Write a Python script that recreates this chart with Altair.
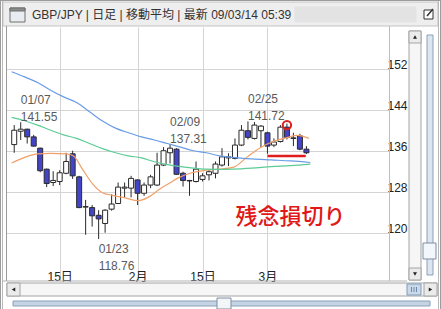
import altair as alt
import pandas as pd

# ---------------- data ----------------
opens  = [137.2, 139.8, 140.2, 138.7, 136.5, 132.4, 129.8, 130.0, 131.6, 135.4,
          130.9, 125.0, 124.9, 123.4, 121.8, 124.6, 125.7, 128.7, 128.7, 130.3,
          127.7, 129.3, 129.3, 133.2, 135.6, 136.3, 131.6, 130.2, 130.0, 130.4,
          131.3, 131.6, 133.2, 134.6, 134.5, 137.1, 139.9, 138.4, 139.9, 139.5,
          137.1, 137.8, 140.6, 138.5, 138.9, 136.3]
highs  = [141.0, 141.55, 140.3, 139.1, 136.6, 132.5, 132.0, 132.2, 135.6, 136.0,
          131.1, 126.4, 125.4, 124.4, 124.6, 127.5, 129.8, 129.8, 131.1, 130.4,
          129.8, 131.3, 135.6, 136.7, 137.31, 136.5, 131.9, 130.3, 133.9, 131.6,
          132.2, 133.9, 136.5, 135.5, 138.4, 141.0, 141.72, 141.6, 141.0, 139.7,
          138.4, 141.0, 141.3, 139.5, 139.3, 136.9]
lows   = [135.6, 138.1, 137.4, 136.8, 131.8, 128.9, 129.1, 129.3, 131.4, 130.5,
          124.8, 119.6, 121.2, 118.76, 120.0, 124.3, 125.6, 126.9, 126.9, 125.4,
          127.2, 128.7, 129.1, 133.0, 133.5, 131.3, 129.0, 127.2, 129.8, 130.0,
          130.2, 130.6, 132.9, 133.0, 134.3, 136.9, 138.2, 138.2, 136.7, 135.4,
          136.7, 137.6, 138.2, 136.9, 136.1, 135.35]
closes = [140.0, 140.2, 138.7, 136.9, 132.1, 129.6, 130.2, 131.7, 133.9, 131.1,
          124.9, 125.1, 123.3, 122.7, 124.4, 125.6, 128.9, 128.9, 130.6, 127.7,
          129.3, 130.9, 133.2, 136.0, 136.5, 131.4, 130.2, 130.1, 132.4, 131.1,
          131.9, 133.4, 134.8, 134.8, 137.1, 140.0, 138.6, 141.0, 140.8, 136.9,
          137.7, 140.6, 138.6, 138.4, 136.3, 135.6]

ma_short_idx = [-0.4, 1.6, 3.6, 5.6, 8.1, 9.1, 10.6, 12.1, 13.6, 15.1, 17.1, 19.1, 20.6,
                22.6, 24.1, 25.1, 27.1, 29.6, 31.6, 33.8, 35.9, 37.9, 39.9, 42.1, 43.6, 45.4]
ma_short = [133.6, 134.7, 135.4, 135.5, 135.4, 135.0, 132.2, 129.5, 127.8, 127.3, 126.8,
            126.25, 126.9, 128.7, 129.8, 130.6, 131.6, 132.2, 132.4, 132.8, 134.8, 136.6,
            137.8, 138.6, 139.0, 138.4]
ma_mid_idx = [-0.4, 1.6, 3.6, 5.6, 7.6, 9.6, 11.6, 13.6, 15.6, 17.6, 19.6, 21.6, 23.6,
              25.6, 27.6, 29.6, 31.6, 33.6, 36.6, 39.6, 42.6, 45.6]
ma_mid = [142.5, 141.85, 141.0, 140.0, 139.1, 138.4, 137.4, 136.4, 135.6, 135.0, 134.6,
          133.85, 133.3, 132.9, 132.6, 132.4, 132.35, 132.4, 132.6, 132.9, 133.1, 133.4]
ma_long_idx = [-0.4, 1.6, 3.6, 5.6, 7.6, 9.6, 11.6, 13.6, 15.6, 17.6, 19.6, 21.6, 23.6,
               25.6, 27.6, 29.6, 31.6, 33.6, 36.6, 39.6, 42.6, 45.6]
ma_long = [151.4, 150.4, 149.3, 147.8, 146.5, 145.4, 143.6, 141.8, 140.4, 139.5, 138.7,
           138.1, 137.4, 136.7, 136.0, 135.6, 135.0, 134.7, 134.4, 134.2, 134.0, 133.7]

ann_idx = [1, 13, 24, 36]
ann_date = ["01/07", "01/23", "02/09", "02/25"]
ann_val = [141.55, 118.76, 137.31, 141.72]
ann_kind = ["high", "low", "high", "high"]

x_tick_idx = [7, 19, 29, 39]
x_tick_txt = ["15日", "2月", "15日", "3月"]
y_ticks = [120, 128, 136, 144, 152]

circle_idx = [42]
circle_val = [141.0]
stop_idx = [39.0]
stop_idx2 = [44.9]
stop_val = [134.97]
note_idx = [42.55]
note_val = [123.1]
note_txt = ["残念損切り"]

title_txt = "GBP/JPY | 日足 | 移動平均 | 最新 09/03/14 05:39"

# ---------------- layout ----------------
FONT = "Liberation Sans, Arial, Noto Sans CJK JP, sans-serif"
CJK = "Noto Sans CJK JP, sans-serif"
X0, Y0 = 6, 27
W, H = 383, 254
xs = alt.Scale(domain=[-0.495, 56.95], nice=False, zero=False)
ys = alt.Scale(domain=[110.58, 160.14], nice=False, zero=False)

def rx(v):
    return v - X0

def ry(v):
    return v - Y0

df = pd.DataFrame({"i": list(range(len(opens))), "open": opens, "high": highs,
                   "low": lows, "close": closes})
df["dir"] = ["up" if c >= o else "down" for o, c in zip(opens, closes)]

label_expr = " : ".join(f"datum.value == {v} ? '{t}'" for v, t in zip(x_tick_idx, x_tick_txt)) + " : ''"

xaxis = alt.Axis(values=x_tick_idx, labelExpr=label_expr, grid=True, gridColor="#d4d4d4",
                 domain=False, ticks=False, tickSize=0, labelPadding=-1,
                 labelBaseline="alphabetic", labelFontSize=12, labelColor="#222222",
                 labelFont=FONT, title=None, labelAngle=0, labelFlush=False, labelOverlap=False)
yaxis = alt.Axis(orient="right", values=y_ticks, grid=True, gridColor="#d4d4d4",
                 domain=False, ticks=False, tickSize=0, labelPadding=-2, labelAlign="left",
                 labelBaseline="alphabetic", labelFontSize=12, labelColor="#222222",
                 labelFont=FONT, title=None, labelFlush=False, labelOverlap=False)

def X(field):
    return alt.X(field, scale=xs, axis=xaxis)

def Y(field):
    return alt.Y(field, scale=ys, axis=yaxis)

# ---------------- chrome (window decoration) ----------------
rects = [
    # x, x2, y, y2, fill, stroke
    (3, 438, 2, 26, "#eeeeee", "#c4c4c4"),
    (295, 416, 7, 22, "#e3e3e3", "#e3e3e3"),
    (10, 25, 8, 22, "#e9edf2", "#6e6e6e"),
    (10, 25, 8, 11, "#8c8c8c", "#6e6e6e"),
    (424, 433, 10, 19, "#ffffff", "#333333"),
    (409, 421, 31, 280, "#f6f6f6", "#a4a4a4"),
    (409, 421, 31, 43, "#ebebeb", "#a4a4a4"),
    (409, 421, 268, 280, "#ebebeb", "#a4a4a4"),
    (427, 433, 35, 275, "#dde6f0", "#8aa0b8"),
    (423, 436, 243, 259, "#f3f6fa", "#7f8fa3"),
    (7, 437, 283, 296, "#f6f6f6", "#a4a4a4"),
    (7, 20, 283, 296, "#ebebeb", "#a4a4a4"),
    (424, 437, 283, 296, "#ebebeb", "#a4a4a4"),
    (407, 421, 284, 295, "#c9d9ea", "#7f9ab8"),
    (13, 430, 301, 306, "#c5d4e4", "#8aa0b8"),
    (217, 231, 298, 309, "#f3f6f9", "#7f8fa0"),
]
rect_df = pd.DataFrame([{"x": rx(a), "x2": rx(b), "y": ry(c), "y2": ry(d), "fill": f, "stroke": s}
                        for a, b, c, d, f, s in rects])
rules = [
    # x, y, x2, y2, color, width
    (0.5, 0, 0.5, 309, "#9c9c9c", 1),
    (2.5, 0, 2.5, 309, "#b8b8b8", 1),
    (440.5, 0, 440.5, 309, "#9c9c9c", 1),
    (438.5, 0, 438.5, 309, "#b8b8b8", 1),
    (0, 0.5, 441, 0.5, "#9c9c9c", 1),
    (6.5, 26, 6.5, 281, "#9a9a9a", 1),
    (3, 281, 407, 281, "#b4b4b4", 1),
    (389.5, 26, 389.5, 281, "#b8b8e8", 1),
    (427, 16, 433, 9, "#333333", 1.5),
    (411.5, 287, 411.5, 292, "#6f8aa8", 1),
    (414, 287, 414, 292, "#6f8aa8", 1),
    (416.5, 287, 416.5, 292, "#6f8aa8", 1),
]
rule_df = pd.DataFrame([{"x": rx(a), "y": ry(b), "x2": rx(c), "y2": ry(d), "color": col, "w": w}
                        for a, b, c, d, col, w in rules])
tris = [
    (415, 37, "triangle-up"), (415, 274, "triangle-down"),
    (13.5, 289.5, "triangle-left"), (430.5, 289.5, "triangle-right"),
]
tri_df = pd.DataFrame([{"x": rx(a), "y": ry(b), "shape": s} for a, b, s in tris])

chrome_rect = alt.Chart(rect_df).mark_rect(strokeWidth=1).encode(
    x=alt.X("x:Q", scale=None), x2="x2:Q",
    y=alt.Y("y:Q", scale=None), y2="y2:Q",
    fill=alt.Fill("fill:N", scale=None), stroke=alt.Stroke("stroke:N", scale=None))
chrome_rule = alt.Chart(rule_df).mark_rule().encode(
    x=alt.X("x:Q", scale=None), x2="x2:Q",
    y=alt.Y("y:Q", scale=None), y2="y2:Q",
    color=alt.Color("color:N", scale=None), strokeWidth=alt.StrokeWidth("w:Q", scale=None))
chrome_tri = alt.Chart(tri_df).mark_point(filled=True, size=16, color="#222222", opacity=1).encode(
    x=alt.X("x:Q", scale=None), y=alt.Y("y:Q", scale=None),
    shape=alt.Shape("shape:N", scale=None))
title = alt.Chart(pd.DataFrame({"t": [title_txt]})).mark_text(
    align="left", baseline="middle", fontSize=12, font=FONT, color="#333333").encode(
    x=alt.value(rx(32)), y=alt.value(ry(15)), text="t:N")

# ---------------- chart layers ----------------
wick = alt.Chart(df).mark_rule(color="#2a2a2a", strokeWidth=1).encode(
    x=X("i:Q"), y=Y("low:Q"), y2="high:Q")
body = alt.Chart(df).mark_bar(size=5, stroke="#2a2a2a", strokeWidth=1).encode(
    x=X("i:Q"), y=Y("open:Q"), y2="close:Q",
    fill=alt.Fill("dir:N", scale=alt.Scale(domain=["up", "down"], range=["#ffffff", "#4444c8"]),
                  legend=None))

ma_df = pd.concat([
    pd.DataFrame({"i": ma_short_idx, "v": ma_short, "s": "short"}),
    pd.DataFrame({"i": ma_mid_idx, "v": ma_mid, "s": "mid"}),
    pd.DataFrame({"i": ma_long_idx, "v": ma_long, "s": "long"}),
])
ma = alt.Chart(ma_df).mark_line(strokeWidth=1.2, interpolate="monotone").encode(
    x=X("i:Q"), y=Y("v:Q"),
    color=alt.Color("s:N", scale=alt.Scale(domain=["short", "mid", "long"],
                                           range=["#f0a068", "#5ccc96", "#6a9ce6"]), legend=None),
    detail="s:N")

ann_df = pd.DataFrame({"i": ann_idx, "d": ann_date, "v": ann_val, "k": ann_kind})
ann_df["vt"] = [f"{v:.2f}" for v in ann_val]
def ann_layer(kind, field, dy):
    return alt.Chart(ann_df).transform_filter(alt.datum.k == kind).mark_text(
        align="left", baseline="alphabetic", fontSize=12, font=FONT, color="#5a5a5a", dy=dy).encode(
        x=X("i:Q"), y=Y("v:Q"), text=f"{field}:N")
anns = [ann_layer("high", "vt", -1), ann_layer("high", "d", -18),
        ann_layer("low", "d", 14), ann_layer("low", "vt", 31)]

circle = alt.Chart(pd.DataFrame({"i": circle_idx, "v": circle_val})).mark_point(
    shape="circle", filled=False, size=70, stroke="#e01c1c", strokeWidth=2, opacity=1).encode(
    x=X("i:Q"), y=Y("v:Q"))
stop = alt.Chart(pd.DataFrame({"i": stop_idx, "i2": stop_idx2, "v": stop_val})).mark_rule(
    color="#e01c1c", strokeWidth=2.5).encode(
    x=X("i:Q"), x2="i2:Q", y=Y("v:Q"))
note = alt.Chart(pd.DataFrame({"i": note_idx, "v": note_val, "t": note_txt})).mark_text(
    align="center", baseline="middle", fontSize=22, font=CJK, fontWeight=500, color="#e01818").encode(
    x=X("i:Q"), y=Y("v:Q"), text="t:N")

chart = alt.layer(
    wick, chrome_rect, chrome_rule, chrome_tri, title,
    body, ma, *anns, circle, stop, note
).properties(
    width=W, height=H,
    padding={"left": X0, "top": Y0, "right": 441 - X0 - W, "bottom": 309 - Y0 - H},
    autosize=alt.AutoSizeParams(type="none"),
    background="#ffffff",
).configure_view(strokeWidth=0)

chart.save("out.html", embed_options={"renderer": "svg", "actions": False})
